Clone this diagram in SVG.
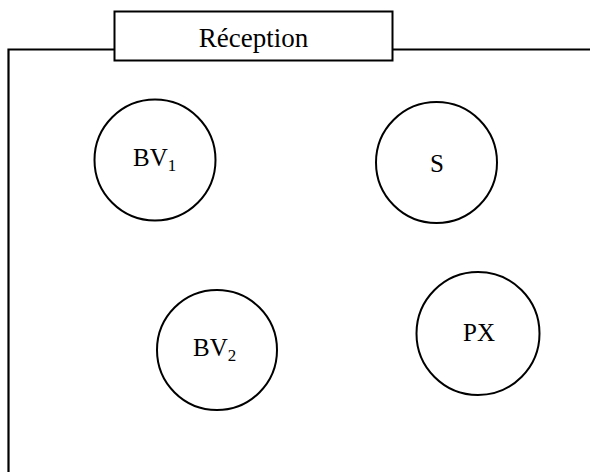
<svg xmlns="http://www.w3.org/2000/svg" width="590" height="472" viewBox="0 0 590 472">
<style>
.n{fill:#fff;stroke:#000;stroke-width:2}
.t{font-family:"Liberation Serif","Times New Roman",serif;font-size:25px;fill:#000}
.s{font-size:17px}
.l{fill:none;stroke:#000;stroke-width:2.2}
</style>
<rect width="590" height="472" fill="#fff"/>
<g id="connectors">
<path class="l" d="M8.5,472 V49.5 H115 M393,49.5 H590"/>
</g>
<g id="reception">
<rect class="n" x="114.5" y="11.5" width="278" height="49"/>
<text class="t" x="253.5" y="46.5" text-anchor="middle" style="font-size:27px">Réception</text>
</g>
<g id="bv1">
<circle class="n" cx="155" cy="160" r="60.5"/>
<text class="t" x="133" y="166">BV<tspan class="s" dy="5">1</tspan></text>
</g>
<g id="s">
<circle class="n" cx="436.5" cy="162.5" r="60.5"/>
<text class="t" x="437" y="172" text-anchor="middle">S</text>
</g>
<g id="bv2">
<circle class="n" cx="217" cy="350" r="60"/>
<text class="t" x="193" y="356">BV<tspan class="s" dy="5">2</tspan></text>
</g>
<g id="px">
<circle class="n" cx="478" cy="333.5" r="61.5"/>
<text class="t" x="479" y="341" text-anchor="middle">PX</text>
</g>
</svg>
